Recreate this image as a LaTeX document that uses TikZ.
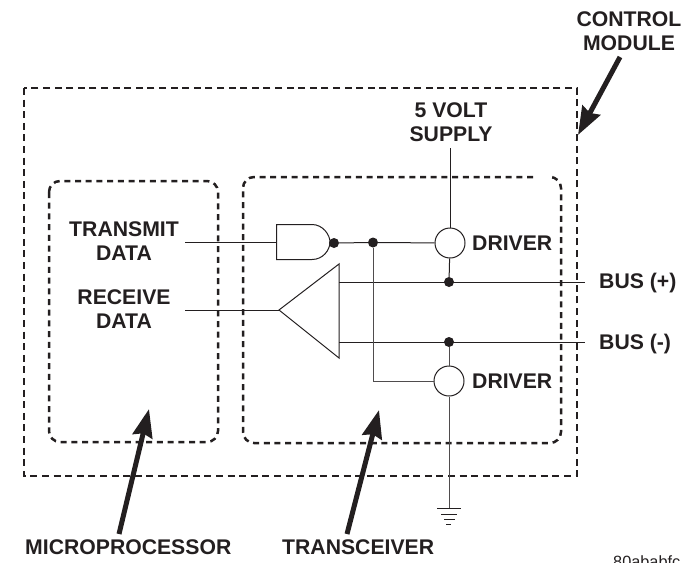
\documentclass[tikz,border=0pt]{standalone}
\usepackage{fontspec}
\setmainfont{Liberation Sans}
\usetikzlibrary{arrows.meta}
\definecolor{ink}{HTML}{231F20}
\tikzset{
  x=1pt,y=-1pt,
  lbl/.style={font=\fontsize{21.2}{23.5}\selectfont\bfseries,text=ink,align=center,inner sep=0pt},
  wire/.style={draw=ink,line width=1pt},
  thinwire/.style={draw=ink!80,line width=.9pt},
  outerbox/.style={draw=ink,line width=2.7pt,dash pattern=on 7pt off 4.6pt},
  innerbox/.style={draw=ink,line width=2.5pt,dash pattern=on 6pt off 4.7pt},
  drivercircle/.style={circle,draw=ink,line width=1pt,fill=white,minimum size=30pt,inner sep=0pt},
  jdot/.style={circle,fill=ink,minimum size=10pt,inner sep=0pt},
  pointer/.style={draw=ink,line width=5pt,-{Stealth[length=28pt,width=20pt,inset=3pt]}},
}
\begin{document}
\begin{tikzpicture}
\useasboundingbox (0,0) rectangle (692,562);
% boxes
\draw[outerbox] (24,88) rectangle (577,476);
\draw[innerbox,rounded corners=11pt] (49,181) rectangle (218,442);
\draw[innerbox,rounded corners=11pt] (533,177) -- (243,177) -- (243,443) -- (561,443) -- (561,177) -- (553,177);
% named points
\coordinate (txin) at (185,242);
\coordinate (rxout) at (185,310);
\coordinate (supply) at (450,148);
\coordinate (busp) at (585,282);
\coordinate (busm) at (585,342);
\coordinate (gnd) at (449,508);
\coordinate (bend) at (373,381);
% gates
\draw[draw=ink,line width=1pt,fill=white] (276.5,224.5) -- (312,224.5) .. controls (323,224.5) and (330,235) .. (330,242) .. controls (330,250) and (323,259.5) .. (312,259.5) -- (276.5,259.5) -- cycle;
\coordinate (andin) at (276.5,242);
\node[jdot] (bubble) at (334,243) {};
\node[jdot] (fork) at (373,242.5) {};
\node[drivercircle] (d1) at (450,243) {};
\node[drivercircle] (d2) at (449,381) {};
\node[jdot] (jp) at (449,282) {};
\node[jdot] (jm) at (449,342) {};
\draw[draw=ink,line width=1pt] (339,264) -- (339,358) -- (279,310) -- cycle;
\coordinate (tip) at (279,310);
\coordinate (trip) at (339,282);
\coordinate (trim) at (339,342);
% wires
\draw[wire] (txin) -- (andin);
\draw[wire] (bubble) -- (fork);
\draw[wire] (fork) -- (d1);
\draw[wire] (supply) -- (d1);
\draw[wire] (d1) -- (jp);
\draw[wire] (trip) -- (busp);
\draw[wire] (trim) -- (busm);
\draw[wire] (rxout) -- (tip);
\draw[thinwire] (fork) -- (bend) -- (d2);
\draw[thinwire] (jm) -- (d2);
\draw[thinwire] (d2) -- (gnd);
% ground
\draw[wire] (437,508) -- (461,508);
\draw[wire] (441,514) -- (457,514);
\draw[wire] (444,519) -- (455,519);
\draw[wire] (446,524) -- (451,524);
% labels
\node[lbl] (transmit) at (124,241) {TRANSMIT\\DATA};
\node[lbl] (receive) at (124,309) {RECEIVE\\DATA};
\node[lbl] (volt) at (451,122) {5 VOLT\\SUPPLY};
\node[lbl,anchor=west] (dl1) at (472,243) {DRIVER};
\node[lbl,anchor=west] (dl2) at (472,381) {DRIVER};
\node[lbl,anchor=west] (bp) at (599,283) {BUS (+)};
\node[lbl,anchor=west] (bm) at (599,344) {BUS (-)};
\node[lbl] (cm) at (629,31) {CONTROL\\MODULE};
\node[lbl,anchor=west] (mp) at (25,547) {MICROPROCESSOR};
\node[lbl,anchor=west] (tr) at (282,547) {TRANSCEIVER};
\node[anchor=base west,inner sep=0pt,text=ink,font=\fontsize{16.3}{18}\selectfont] (code) at (613,567) {80ababfc};
% pointers
\coordinate (cmt) at (620,57);
\coordinate (cmh) at (578,135);
\coordinate (mpt) at (119,534);
\coordinate (mph) at (149,409);
\coordinate (trt) at (347,534);
\coordinate (trh) at (379,410);
\draw[pointer] (cmt) -- (cmh);
\draw[pointer] (mpt) -- (mph);
\draw[pointer] (trt) -- (trh);
\end{tikzpicture}
\end{document}
